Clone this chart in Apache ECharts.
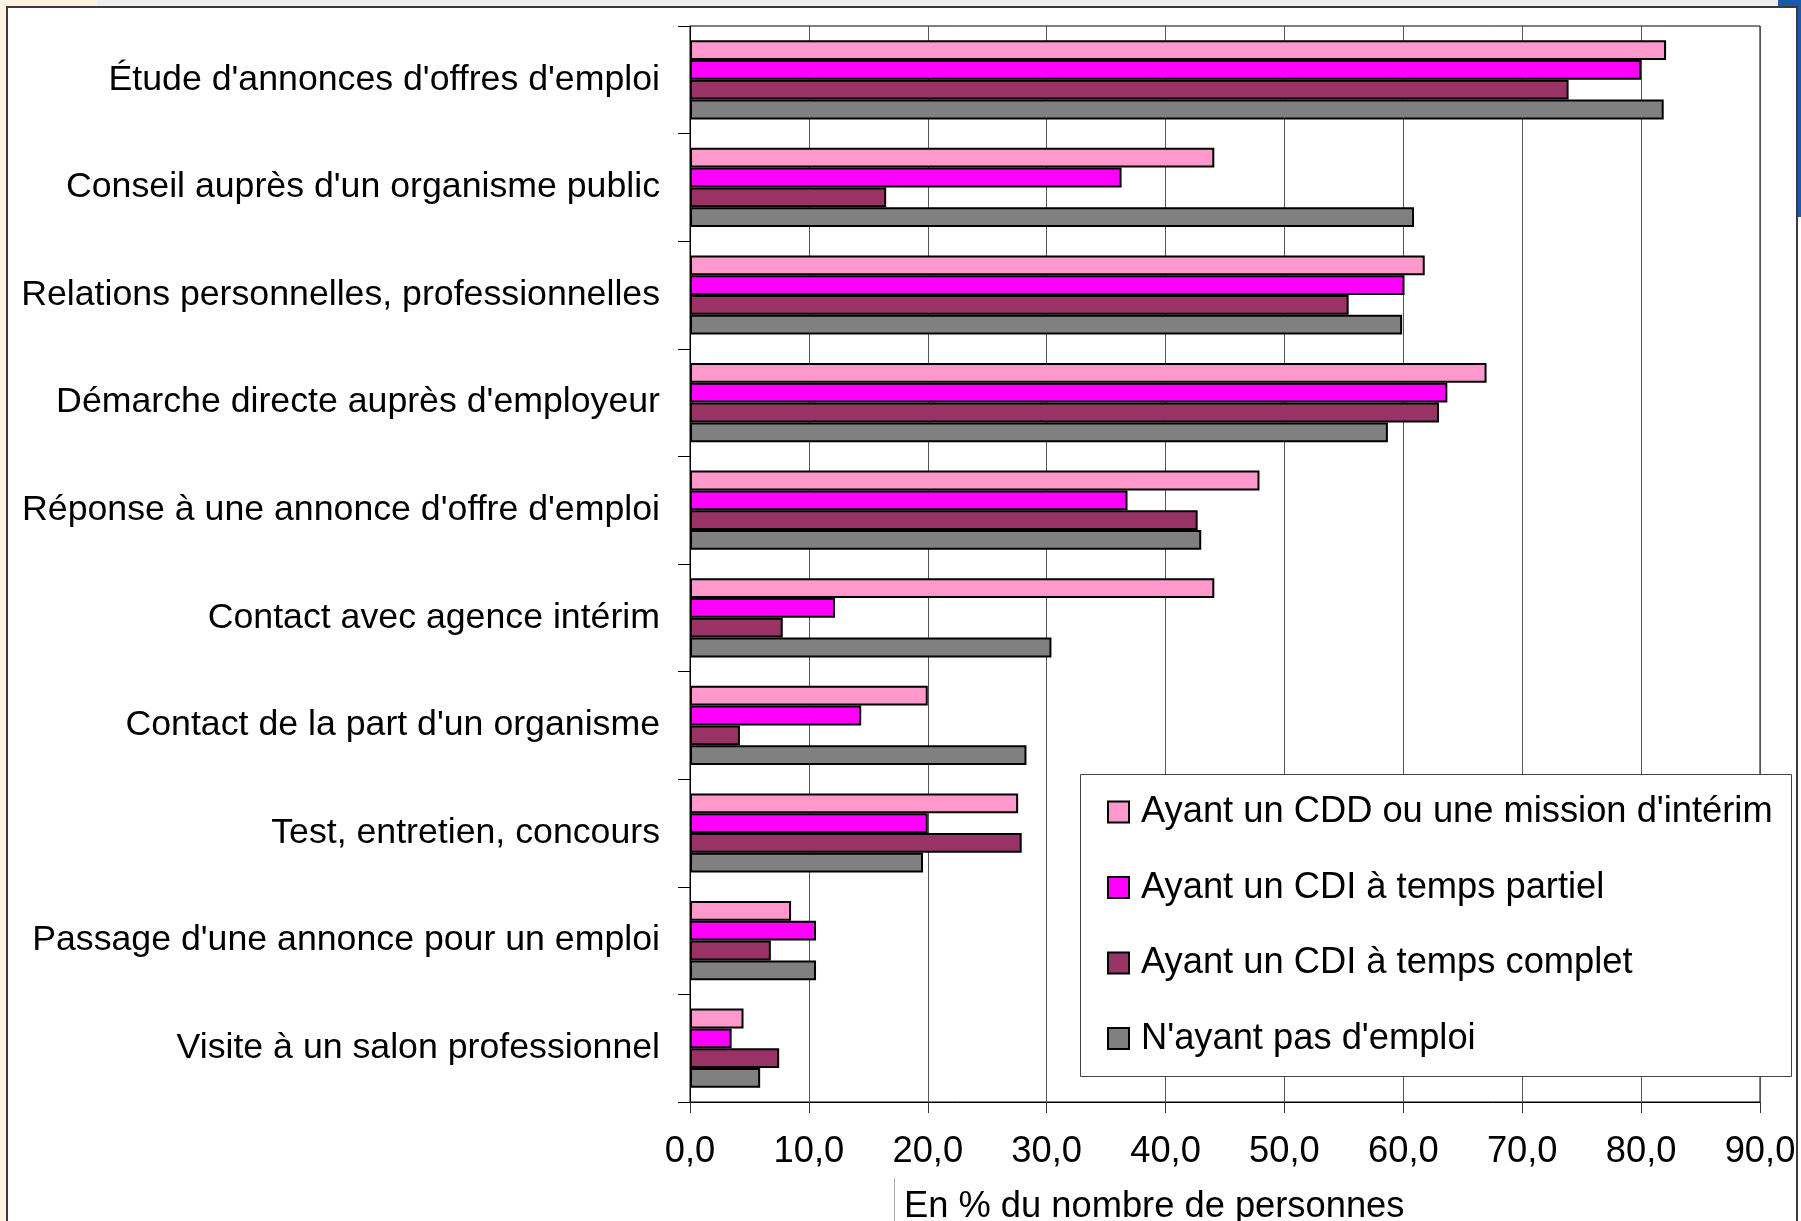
<!DOCTYPE html>
<html>
<head>
<meta charset="utf-8">
<script src="https://cdn.jsdelivr.net/npm/echarts/dist/echarts.min.js"></script>
<style>
html,body{margin:0;padding:0;background:#fff;}
#chart{width:1801px;height:1221px;}
</style>
</head>
<body>
<div id="chart"></div>
<script>
const categories = [
  "Étude d'annonces d'offres d'emploi",
  "Conseil auprès d'un organisme public",
  "Relations personnelles, professionnelles",
  "Démarche directe auprès d'employeur",
  "Réponse à une annonce d'offre d'emploi",
  "Contact avec agence intérim",
  "Contact de la part d'un organisme",
  "Test, entretien, concours",
  "Passage d'une annonce pour un emploi",
  "Visite à un salon professionnel"
];
const seriesNames = [
  "Ayant un CDD ou une mission d'intérim",
  "Ayant un CDI à temps partiel",
  "Ayant un CDI à temps complet",
  "N'ayant pas d'emploi"
];
const cdd        = [82.1, 44.1, 61.8, 67.0, 47.9, 44.1, 20.0, 27.6, 8.5, 4.5];
const cdiPartiel = [80.0, 36.3, 60.1, 63.7, 36.8, 12.2, 14.4, 20.0, 10.6, 3.5];
const cdiComplet = [73.9, 16.5, 55.4, 63.0, 42.7, 7.8, 4.2, 27.9, 6.8, 7.5];
const sansEmploi = [81.9, 60.9, 59.9, 58.7, 43.0, 30.4, 28.3, 19.6, 10.6, 5.9];
const xTickValues = [0, 10, 20, 30, 40, 50, 60, 70, 80, 90];
const xTickLabels = ["0,0", "10,0", "20,0", "30,0", "40,0", "50,0", "60,0", "70,0", "80,0", "90,0"];
const axisTitle = "En % du nombre de personnes";

const colors = ['#FF99CC', '#FF00FF', '#993366', '#808080'];
const FONT = '"Liberation Sans", Arial, sans-serif';
const FS = 36.3;
const FS_Y = 35.7;

const dataSets = [cdd, cdiPartiel, cdiComplet, sansEmploi];

const chart = echarts.init(document.getElementById('chart'), null, {renderer: 'canvas'});

const series = dataSets.map((d, i) => ({
  name: seriesNames[i],
  type: 'bar',
  data: d,
  barWidth: 19.8,
  barGap: '0%',
  itemStyle: {color: colors[i], borderColor: '#000', borderWidth: 2},
  emphasis: {disabled: true},
  animation: false
}));

const option = {
  backgroundColor: '#ffffff',
  animation: false,
  textStyle: {fontFamily: FONT},
  grid: {
    left: 690, right: 41, top: 26, bottom: 119,
    containLabel: false,
    show: true, borderColor: '#000', borderWidth: 1, backgroundColor: 'transparent'
  },
  xAxis: {
    type: 'value',
    min: xTickValues[0], max: xTickValues[xTickValues.length - 1], interval: 10,
    axisLine: {show: true, lineStyle: {color: '#000', width: 1}},
    axisTick: {show: true, length: 11, inside: false, lineStyle: {color: '#333', width: 1}},
    splitLine: {show: true, lineStyle: {color: '#555', width: 1}},
    axisLabel: {
      fontSize: FS, color: '#000', fontFamily: FONT, margin: 32,
      formatter: function (v) { const k = xTickValues.indexOf(v); return k >= 0 ? xTickLabels[k] : ''; }
    }
  },
  yAxis: {
    type: 'category',
    data: categories,
    inverse: true,
    axisLine: {show: true, lineStyle: {color: '#000', width: 1}},
    axisTick: {show: true, length: 12, inside: false, alignWithLabel: false, lineStyle: {color: '#000', width: 1}},
    splitLine: {show: false},
    axisLabel: {fontSize: FS_Y, color: '#000', fontFamily: FONT, margin: 30, interval: 0}
  },
  legend: {
    orient: 'vertical',
    left: 1107, top: 794,
    padding: 0,
    itemGap: 39.5,
    itemWidth: 21, itemHeight: 21,
    icon: 'rect',
    z: 10,
    selectedMode: false,
    itemStyle: {borderColor: '#000', borderWidth: 2},
    textStyle: {fontSize: FS, color: '#000', fontFamily: FONT, padding: [0, 0, 0, 7]},
    data: seriesNames
  },
  graphic: [
    {type: 'rect', z: 0, shape: {x: 0, y: 0, width: 1801, height: 6}, style: {fill: '#eeeeee'}, silent: true},
    {type: 'rect', z: 0, shape: {x: 0, y: 0, width: 97, height: 6}, style: {fill: '#fdf3e3'}, silent: true},
    {type: 'rect', z: 0, shape: {x: 0, y: 0, width: 6, height: 1221}, style: {fill: '#fdf3e3'}, silent: true},
    {type: 'rect', z: 0, shape: {x: 1778, y: 0, width: 23, height: 6}, style: {fill: '#1a5aa8'}, silent: true},
    {type: 'rect', z: 0, shape: {x: 1798, y: 0, width: 3, height: 217}, style: {fill: '#1a5aa8'}, silent: true},
    {type: 'rect', z: 0, shape: {x: 7, y: 7, width: 1790, height: 1300}, style: {fill: 'none', stroke: '#3a3a3a', lineWidth: 2}, silent: true},
    {type: 'rect', z: 8, shape: {x: 1080.5, y: 774.5, width: 711, height: 302}, style: {fill: '#ffffff', stroke: '#444', lineWidth: 1}, silent: true},
    {type: 'line', z: 1, shape: {x1: 894.5, y1: 1178, x2: 894.5, y2: 1221}, style: {stroke: '#aaa', lineWidth: 1}, silent: true},
    {type: 'text', z: 1, style: {x: 904, y: 1207, text: axisTitle, font: FS + 'px ' + FONT, fill: '#000', verticalAlign: 'middle', align: 'left'}, silent: true}
  ],
  series: series
};

chart.setOption(option);
</script>
</body>
</html>
